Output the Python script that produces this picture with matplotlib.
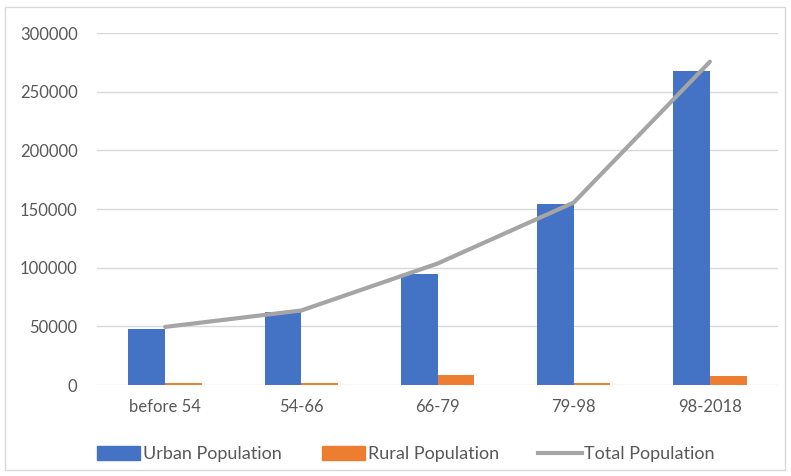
import matplotlib.pyplot as plt
from matplotlib.patches import Rectangle, Patch
from matplotlib.lines import Line2D
import numpy as np

categories = ['before 54', '54-66', '66-79', '79-98', '98-2018']
urban = [48000, 62000, 95000, 154000, 268000]
rural = [1500, 1500, 8500, 1500, 7500]
total = [u + r for u, r in zip(urban, rural)]

blue = '#4472C4'
orange = '#ED7D31'
grey = '#A5A5A5'
text_col = '#595959'

plt.rcParams['font.family'] = ['Lato', 'DejaVu Sans']

fig = plt.figure(figsize=(7.91, 4.76), dpi=100)
fig.patches.append(Rectangle((5 / 791, 6 / 476), 780 / 791, 463 / 476,
                             transform=fig.transFigure, fill=False,
                             edgecolor='#D9D9D9', linewidth=1))
ax = fig.add_axes([97 / 791, 1 - 385 / 476, 681 / 791, 352 / 476])

x = np.arange(len(categories))
w = 0.27
ax.bar(x - w / 2, urban, w, color=blue, zorder=2)
ax.bar(x + w / 2, rural, w, color=orange, zorder=2)
ax.plot(x, total, color=grey, linewidth=3, zorder=3, solid_capstyle='round')

ax.set_xlim(-0.5, len(categories) - 0.5)
ax.set_ylim(0, 300000)
ax.set_yticks(range(0, 300001, 50000))
ax.set_xticks(x)
ax.set_xticklabels(categories)
ax.tick_params(axis='both', length=0, labelsize=12, colors=text_col)
ax.tick_params(axis='y', pad=14)
ax.tick_params(axis='x', pad=10)
ax.grid(axis='y', color='#D9D9D9', linewidth=1, zorder=0)
for s in ax.spines.values():
    s.set_visible(False)

handles = [Patch(color=blue), Patch(color=orange),
           Line2D([0], [0], color=grey, linewidth=3)]
fig.legend(handles, ['Urban Population', 'Rural Population', 'Total Population'],
           loc='center left', bbox_to_anchor=(97 / 791, 1 - 454 / 476), ncol=3,
           frameon=False, fontsize=13, labelcolor=text_col,
           borderpad=0, borderaxespad=0,
           handlelength=2.4, handleheight=0.8, handletextpad=0.15,
           columnspacing=2.2)

fig.savefig('out.png', dpi=100)
